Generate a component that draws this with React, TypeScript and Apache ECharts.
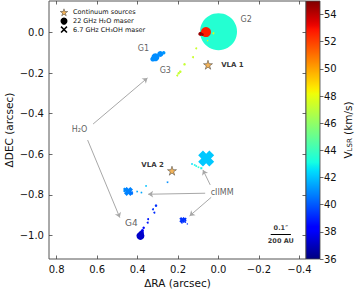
import React, { useEffect, useRef } from 'react';
import * as echarts from 'echarts';

// ---- axis ticks ----
const xTicks = [-0.4, -0.2, 0.0, 0.2, 0.4, 0.6, 0.8];
const yTicks = [-1.0, -0.8, -0.6, -0.4, -0.2, 0.0];
const vMin = 36;
const vMax = 55;

// ---- continuum sources ----
const contNames = ['VLA 1', 'VLA 2'];
const contRA = [0.052, 0.230];
const contDEC = [-0.159, -0.681];

// ---- 22 GHz H2O masers: RA, DEC (arcsec), VLSR (km/s), spot size ----
const waterRA = [0.0, 0.062, 0.090, 0.080, 0.025, 0.054,
  0.110, 0.126, 0.168, 0.189, 0.197, 0.204,
  0.325, 0.312, 0.288, 0.271,
  0.309, 0.324, 0.317, 0.348, 0.350, 0.370, 0.376, 0.381, 0.386];
const waterDEC = [0.004, 0.002, -0.007, -0.010, -0.004, -0.040,
  -0.078, -0.122, -0.157, -0.193, -0.201, -0.212,
  -0.131, -0.122, -0.106, -0.100,
  -0.853, -0.871, -0.888, -0.920, -0.937, -0.962, -0.976, -0.988, -1.002];
const waterV = [43.5, 52.7, 54.6, 54.3, 47.5, 47.3,
  47.3, 47.3, 47.2, 47.2, 47.2, 47.2,
  41.0, 41.0, 41.0, 41.2,
  39.3, 39.3, 39.2, 38.8, 38.8, 38.5, 38.0, 37.5, 37.2];
const waterSize = [37, 10, 4, 3, 2, 1.5,
  2, 2, 2.5, 2.5, 2.5, 2,
  5, 8, 6, 3.5,
  2.5, 2, 2, 2, 2, 2.5, 3, 5, 8];

// ---- 6.7 GHz CH3OH masers ----
const methRA = [0.061, 0.131, 0.118, 0.110, 0.099, 0.085, 0.252,
  0.460, 0.445, 0.431, 0.402, 0.381, 0.358,
  0.179, 0.167, 0.181, 0.164, 0.154];
const methDEC = [-0.621, -0.648, -0.653, -0.658, -0.664, -0.669, -0.738,
  -0.776, -0.783, -0.791, -0.784, -0.789, -0.756,
  -0.924, -0.921, -0.937, -0.934, -0.943];
const methV = [42.1, 42.5, 43.0, 43.0, 43.5, 43.0, 41.0,
  41.0, 40.8, 40.5, 41.5, 41.5, 42.0,
  39.3, 39.3, 39.2, 39.2, 39.2];
const methSize = [16, 2, 2, 2, 2, 2.5, 2,
  5, 9, 4, 2, 2, 2,
  6, 4, 2, 2, 1.5];

// ---- annotations ----
const groupLabels = ['G1', 'G2', 'G3', 'G4', 'H₂O', 'cIIMM'];
const groupRA = [0.371, -0.137, 0.263, 0.431, 0.687, -0.018];
const groupDEC = [-0.081, 0.066, -0.185, -0.938, -0.480, -0.787];

const arrowFrom = [[0.620, -0.451], [0.647, -0.530], [0.066, -0.792], [0.041, -0.751], [0.036, -0.812]];
const arrowTo = [[0.351, -0.224], [0.488, -0.912], [0.348, -0.797], [0.077, -0.677], [0.143, -0.904]];

const scaleBarRA = [-0.258, -0.358];
const scaleBarDEC = -0.993;
const scaleTexts = ['0.1″', '200 AU'];
const scaleTextDEC = [-0.963, -1.028];

const legendNames = ['Continuum sources', '22 GHz H₂O maser', '6.7 GHz CH₃OH maser'];

const FONT = 'DejaVu Sans';
const STAR = 'path://M50,0 L61,35 L98,35 L68,57 L79,91 L50,70 L21,91 L32,57 L2,35 L39,35 Z';
const XSYM = 'path://M0,3 L3,0 L5,2 L7,0 L10,3 L8,5 L10,7 L7,10 L5,8 L3,10 L0,7 L2,5 Z';
const XLEG = 'path://M0,1.5 L1.5,0 L5,3.5 L8.5,0 L10,1.5 L6.5,5 L10,8.5 L8.5,10 L5,6.5 L1.5,10 L0,8.5 L3.5,5 Z';

// matplotlib jet
const jetSeg = {
  r: [[0, 0], [0.35, 0], [0.66, 1], [0.89, 1], [1, 0.5]],
  g: [[0, 0], [0.125, 0], [0.375, 1], [0.64, 1], [0.91, 0], [1, 0]],
  b: [[0, 0.5], [0.11, 1], [0.34, 1], [0.65, 0], [1, 0]],
};
function seg(pts: number[][], t: number) {
  for (let i = 1; i < pts.length; i++) {
    if (t <= pts[i][0]) {
      const [x0, y0] = pts[i - 1];
      const [x1, y1] = pts[i];
      return y0 + ((t - x0) / (x1 - x0)) * (y1 - y0);
    }
  }
  return pts[pts.length - 1][1];
}
function jet(t: number) {
  const c = (v: number) => Math.round(Math.max(0, Math.min(1, v)) * 255);
  return `rgb(${c(seg(jetSeg.r, t))},${c(seg(jetSeg.g, t))},${c(seg(jetSeg.b, t))})`;
}
const jetColors: string[] = [];
for (let i = 0; i <= 64; i++) jetColors.push(jet(i / 64));

const fmt = (v: number) => (Math.abs(v) < 1e-9 ? '0.0' : v.toFixed(1)).replace('-', '\u2212');

export default function App() {
  const ref = useRef<HTMLDivElement>(null);
  useEffect(() => {
    document.body.style.margin = '0';
    const chart = echarts.init(ref.current!, null, { renderer: 'svg' });
    const xMin = -0.4325, xMax = 0.838, yMin = -1.116, yMax = 0.155;
    const tickStyle = { show: true, inside: true, length: 3.5, lineStyle: { color: '#444', width: 0.8 } };
    const noLine = { show: false, onZero: false };

    const waterData = waterRA.map((r, i) => [r, waterDEC[i], waterV[i], waterSize[i]]);
    const methData = methRA.map((r, i) => [r, methDEC[i], methV[i], methSize[i]]);
    const contData = contRA.map((r, i) => [r, contDEC[i]]);

    const textStyleBase = { fontFamily: FONT, color: '#222' };
    const labelData: any[] = [];
    groupLabels.forEach((t, i) => {
      labelData.push({
        value: [groupRA[i], groupDEC[i]],
        label: { show: true, formatter: t, position: 'inside', fontSize: t === 'G4' ? 9 : 8, ...textStyleBase, color: '#333' },
      });
    });
    labelData.push({
      value: [contRA[0] - 0.065, contDEC[0]],
      label: { show: true, formatter: contNames[0], position: 'inside', align: 'left', fontSize: 7, fontWeight: 'bold', ...textStyleBase, color: '#000' },
    });
    labelData.push({
      value: [contRA[1] + 0.04, contDEC[1] + 0.028],
      label: { show: true, formatter: contNames[1], position: 'inside', align: 'right', fontSize: 7, fontWeight: 'bold', ...textStyleBase, color: '#000' },
    });
    scaleTexts.forEach((t, i) => {
      labelData.push({
        value: [(scaleBarRA[0] + scaleBarRA[1]) / 2, scaleTextDEC[i]],
        label: { show: true, formatter: t, position: 'inside', fontSize: 6.5, fontWeight: 'bold', ...textStyleBase, color: '#000' },
      });
    });

    const gradStops = jetColors.map((c, i) => ({ offset: i / (jetColors.length - 1), color: c }));

    chart.setOption({
      animation: false,
      backgroundColor: '#fff',
      grid: [
        { left: 49, top: 1, right: 51, bottom: 30, show: true, borderColor: '#555', borderWidth: 1, backgroundColor: 'transparent', outerBoundsMode: 'none', containLabel: false },
        { left: 306, top: 1, width: 14, bottom: 30, outerBoundsMode: 'none', containLabel: false },
      ],
      legend: {
        orient: 'vertical', left: 55, top: 3.5, itemWidth: 8, itemHeight: 7, itemGap: 1.5, selectedMode: false,
        textStyle: { fontSize: 6.5, fontFamily: FONT, color: '#111' },
        data: [
          { name: legendNames[0], icon: STAR, itemStyle: { color: '#f0a030', borderColor: '#333', borderWidth: 0.6 } },
          { name: legendNames[1], icon: 'circle', itemStyle: { color: '#000' } },
          { name: legendNames[2], icon: XLEG, itemStyle: { color: '#000' } },
        ],
      },
      xAxis: [
        {
          gridIndex: 0, type: 'value', inverse: true, min: xMin, max: xMax, position: 'bottom',
          axisLine: noLine, splitLine: { show: false },
          axisTick: { ...tickStyle, customValues: xTicks },
          axisLabel: { customValues: xTicks, formatter: fmt, fontSize: 10, fontFamily: FONT, color: '#111', margin: 5 },
          name: 'ΔRA (arcsec)', nameLocation: 'middle', nameGap: 18, nameMoveOverlap: false,
          nameTextStyle: { fontSize: 10.5, fontFamily: FONT, color: '#111' },
        },
        {
          gridIndex: 0, type: 'value', inverse: true, min: xMin, max: xMax, position: 'top',
          axisLine: noLine, splitLine: { show: false },
          axisTick: { ...tickStyle, customValues: xTicks }, axisLabel: { show: false },
        },
        { gridIndex: 1, type: 'value', min: 0, max: 1, show: false },
      ],
      yAxis: [
        {
          gridIndex: 0, type: 'value', min: yMin, max: yMax, position: 'left',
          axisLine: noLine, splitLine: { show: false },
          axisTick: { ...tickStyle, customValues: yTicks },
          axisLabel: { customValues: yTicks, formatter: fmt, fontSize: 10, fontFamily: FONT, color: '#111', margin: 5 },
          name: 'ΔDEC (arcsec)', nameLocation: 'middle', nameGap: 35, nameMoveOverlap: false,
          nameTextStyle: { fontSize: 10.5, fontFamily: FONT, color: '#111' },
        },
        {
          gridIndex: 0, type: 'value', min: yMin, max: yMax, position: 'right',
          axisLine: noLine, splitLine: { show: false },
          axisTick: { ...tickStyle, customValues: yTicks }, axisLabel: { show: false },
        },
        {
          gridIndex: 1, type: 'value', min: vMin, max: vMax, interval: 2, position: 'right',
          axisLine: noLine, splitLine: { show: false },
          axisTick: { show: true, inside: false, length: 3.5, lineStyle: { color: '#444', width: 0.8 } },
          axisLabel: { fontSize: 10, fontFamily: FONT, color: '#111', margin: 4, showMaxLabel: false },
          name: '{v|V}{s|LSR}{v| (km/s)}', nameLocation: 'middle', nameGap: 22, nameRotate: 90,
          nameTextStyle: {
            rich: {
              v: { fontSize: 10.5, fontFamily: FONT, color: '#111' },
              s: { fontSize: 7, fontFamily: FONT, color: '#111', verticalAlign: 'bottom', padding: [4, 0, 0, 0] },
            },
          },
        },
      ],
      visualMap: {
        type: 'continuous', show: false, min: vMin, max: vMax, dimension: 2, seriesIndex: [0, 1],
        inRange: { color: jetColors },
      },
      series: [
        {
          name: legendNames[1], type: 'scatter', xAxisIndex: 0, yAxisIndex: 0, data: waterData,
          symbol: 'circle', symbolSize: (v: number[]) => v[3], silent: true, z: 2,
          itemStyle: { opacity: 1 },
        },
        {
          name: legendNames[2], type: 'scatter', xAxisIndex: 0, yAxisIndex: 0, data: methData,
          symbol: XSYM, symbolSize: (v: number[]) => v[3], silent: true, z: 3,
          itemStyle: { opacity: 1 },
        },
        {
          name: legendNames[0], type: 'scatter', xAxisIndex: 0, yAxisIndex: 0, data: contData,
          symbol: STAR, symbolSize: 9, silent: true, z: 5,
          itemStyle: { color: '#f0a030', borderColor: '#333', borderWidth: 0.6 },
        },
        {
          type: 'scatter', xAxisIndex: 0, yAxisIndex: 0, data: labelData, symbolSize: 0, silent: true, z: 6,
          markLine: {
            silent: true, symbol: ['none', 'arrow'], symbolSize: 5, animation: false,
            lineStyle: { color: '#a8a8a8', width: 1, type: 'solid' }, label: { show: false },
            itemStyle: { color: '#a8a8a8' },
            data: arrowFrom.map((f, i) => [{ coord: f }, { coord: arrowTo[i] }]),
          },
        },
        {
          type: 'scatter', xAxisIndex: 0, yAxisIndex: 0, data: [], symbolSize: 0, silent: true,
          markLine: {
            silent: true, symbol: ['none', 'none'], animation: false,
            lineStyle: { color: '#000', width: 1, type: 'solid' }, label: { show: false },
            data: [[{ coord: [scaleBarRA[0], scaleBarDEC] }, { coord: [scaleBarRA[1], scaleBarDEC] }]],
          },
        },
        {
          type: 'custom', xAxisIndex: 2, yAxisIndex: 2, data: [[0.5, vMin]], silent: true,
          renderItem: (params: any) => {
            const cs = params.coordSys;
            return {
              type: 'rect',
              shape: { x: cs.x, y: cs.y, width: cs.width, height: cs.height },
              style: { fill: new echarts.graphic.LinearGradient(0, 1, 0, 0, gradStops), stroke: '#444', lineWidth: 0.8 },
            };
          },
        },
      ],
    });
    return () => chart.dispose();
  }, []);
  return <div ref={ref} style={{ width: 357, height: 289 }} />;
}
